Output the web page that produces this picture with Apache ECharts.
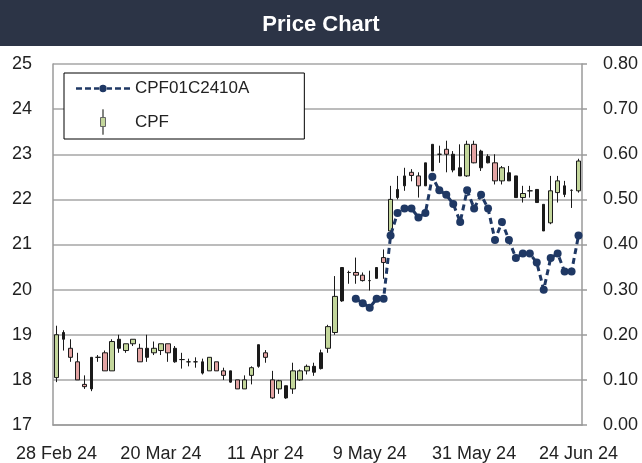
<!DOCTYPE html>
<html><head><meta charset="utf-8">
<script src="https://cdn.jsdelivr.net/npm/echarts@6/dist/echarts.min.js"></script>
<style>html,body{margin:0;padding:0;background:#fff}#c{width:642px;height:463px}</style>
</head><body><div id="c"></div>
<script>
const dates = ['28 Feb 24','29 Feb 24','1 Mar 24','4 Mar 24','5 Mar 24','6 Mar 24','7 Mar 24','8 Mar 24','11 Mar 24','12 Mar 24','13 Mar 24','14 Mar 24','15 Mar 24','18 Mar 24','19 Mar 24','20 Mar 24','21 Mar 24','22 Mar 24','25 Mar 24','26 Mar 24','27 Mar 24','28 Mar 24','29 Mar 24','1 Apr 24','2 Apr 24','3 Apr 24','4 Apr 24','5 Apr 24','9 Apr 24','10 Apr 24','11 Apr 24','17 Apr 24','18 Apr 24','19 Apr 24','22 Apr 24','23 Apr 24','24 Apr 24','25 Apr 24','26 Apr 24','29 Apr 24','30 Apr 24','2 May 24','3 May 24','7 May 24','8 May 24','9 May 24','10 May 24','13 May 24','14 May 24','15 May 24','16 May 24','17 May 24','20 May 24','21 May 24','23 May 24','24 May 24','27 May 24','28 May 24','29 May 24','30 May 24','31 May 24','4 Jun 24','5 Jun 24','6 Jun 24','7 Jun 24','10 Jun 24','11 Jun 24','12 Jun 24','13 Jun 24','14 Jun 24','17 Jun 24','18 Jun 24','19 Jun 24','20 Jun 24','21 Jun 24','24 Jun 24'];

const openPrice  = [18.05,19.05,18.7,18.4,17.9,17.8,18.5,18.6,18.2,18.9,18.65,18.8,18.7,18.5,18.6,18.65,18.8,18.7,18.45,18.4,18.4,18.4,18.2,18.4,18.2,18.2,18.0,17.8,18.1,18.3,18.6,18.0,17.8,17.87,17.8,18.0,18.2,18.3,18.25,18.7,19.05,19.75,20.38,20.38,20.32,20.2,20.25,20.71,21.3,22.22,22.3,22.6,22.52,22.3,22.63,23.0,23.11,23.0,22.7,22.52,23.22,23.07,22.95,22.81,22.41,22.59,22.52,22.04,22.19,22.22,21.89,21.48,22.15,22.3,22.2,22.19];
const closePrice = [19.0,18.9,18.5,18.0,17.85,18.5,18.5,18.2,18.85,18.7,18.8,18.9,18.4,18.7,18.7,18.8,18.6,18.4,18.45,18.4,18.4,18.15,18.5,18.2,18.1,17.95,17.8,18.0,18.27,18.78,18.5,17.6,17.98,17.6,18.2,18.2,18.3,18.17,18.6,19.18,19.85,20.49,20.38,20.32,20.2,20.2,20.49,20.6,22.0,22.04,22.52,22.53,22.3,22.81,23.22,23.0,23.0,22.65,22.52,23.22,22.81,22.7,22.81,22.41,22.7,22.41,22.04,22.13,22.19,21.93,21.3,22.19,22.41,22.11,22.2,22.85];
const lowPrice   = [17.95,18.65,18.4,18.0,17.8,17.75,18.4,18.2,18.2,18.6,18.6,18.75,18.4,18.4,18.55,18.55,18.4,18.38,18.25,18.3,18.27,18.12,18.2,18.2,18.0,17.94,17.8,17.8,17.9,18.27,18.38,17.58,17.69,17.58,17.69,17.98,18.12,18.09,18.23,18.6,19.0,19.73,20.13,20.13,20.18,19.98,20.25,20.24,21.2,22.0,22.19,22.4,22.04,22.3,22.63,22.81,22.6,22.6,22.52,22.5,22.8,22.63,22.8,22.33,22.33,22.41,22.04,21.93,22.04,21.93,21.3,21.45,21.93,22.05,21.81,22.15];
const highPrice  = [19.2,19.1,18.9,18.6,18.1,18.5,18.55,18.65,18.9,19.0,18.8,18.9,18.8,19.0,18.85,18.8,18.8,18.75,18.6,18.47,18.5,18.47,18.5,18.4,18.27,18.2,18.0,18.1,18.3,18.78,18.66,18.2,18.0,17.87,18.38,18.23,18.34,18.38,18.67,19.22,20.3,20.49,20.42,20.71,20.38,20.42,20.49,20.89,22.3,22.52,22.7,22.67,22.6,22.81,23.22,23.19,23.3,23.07,23.22,23.3,23.3,23.1,23.0,23.0,22.74,22.74,22.52,22.3,22.3,22.22,21.89,22.52,22.52,22.41,22.22,22.9];

const dwDates = ['7 May 24','8 May 24','9 May 24','10 May 24','13 May 24','14 May 24','15 May 24','16 May 24','17 May 24','20 May 24','21 May 24','23 May 24','24 May 24','27 May 24','28 May 24','29 May 24','30 May 24','31 May 24','4 Jun 24','5 Jun 24','6 Jun 24','7 Jun 24','10 Jun 24','11 Jun 24','12 Jun 24','13 Jun 24','14 Jun 24','17 Jun 24','18 Jun 24','19 Jun 24','20 Jun 24','21 Jun 24','24 Jun 24'];
const dwPrice = [0.28,0.27,0.26,0.28,0.28,0.42,0.47,0.48,0.48,0.46,0.47,0.55,0.52,0.51,0.49,0.45,0.52,0.48,0.51,0.48,0.41,0.45,0.41,0.37,0.38,0.38,0.36,0.30,0.37,0.38,0.34,0.34,0.42];

const FONT = '"Liberation Sans", Arial, sans-serif';
const EMPTY = ['-', '-', '-', '-'];
const candleData = dates.map((d, i) => [openPrice[i], closePrice[i], lowPrice[i], highPrice[i]]);
// The source picture draws some bodies narrow (pixel snapping), which renders them solid dark.
const isNarrow = i => i % 4 === 1 || (i % 4 === 2 && i >= 38);
const wideData = candleData.map((v, i) => (isNarrow(i) ? EMPTY : v));
const narrowData = candleData.map((v, i) => (isNarrow(i) ? v : EMPTY));
const dwMap = {};
dwDates.forEach((d, i) => { dwMap[d] = dwPrice[i]; });
const dwSeries = dates.map(d => (d in dwMap ? dwMap[d] : null));

const chart = echarts.init(document.getElementById('c'), null, {renderer: 'canvas'});
chart.setOption({
  animation: false,
  textStyle: {fontFamily: FONT},
  graphic: [{type: 'rect', shape: {x: 0, y: 0, width: 642, height: 46}, style: {fill: '#2c3446'}, z: -10}],
  title: {text: 'Price Chart', left: 'center', top: 9,
    textStyle: {color: '#ffffff', fontSize: 22, fontWeight: 'bold', fontFamily: FONT}},
  legend: {
    orient: 'vertical', left: 64, top: 73,
    padding: [7, 55, 4, 12], itemGap: 12, itemWidth: 54, itemHeight: 25,
    borderColor: '#000', borderWidth: 1, backgroundColor: '#fff',
    textStyle: {fontSize: 17, color: '#222', fontFamily: FONT},
    data: [
      {name: 'CPF01C2410A',
       icon: 'path://M0 11.3h6v2.4h-6z M9 11.3h6v2.4h-6z M18 11.3h5v2.4h-5z M23.3 12.5a3.7 3.7 0 1 0 7.4 0a3.7 3.7 0 1 0 -7.4 0z M31 11.3h5v2.4h-5z M39 11.3h6v2.4h-6z M48 11.3h6v2.4h-6z',
       itemStyle: {color: '#1f3864', borderWidth: 0}},
      {name: 'CPF',
       icon: 'path://M2.3 0h0.4v8h-0.4z M0 8h5v9h-5z M2.3 17h0.4v8h-0.4z',
       itemStyle: {color: '#c3d69b', borderColor: '#666', borderWidth: 1}}
    ]
  },
  grid: {left: 53, right: 60, top: 64, bottom: 36},
  xAxis: {
    type: 'category', data: dates, boundaryGap: true,
    axisLine: {lineStyle: {color: '#9a9a9a', width: 1.5}},
    axisTick: {show: false},
    axisLabel: {interval: 14, fontSize: 18, color: '#222', margin: 20, fontFamily: FONT},
    splitLine: {show: false}
  },
  yAxis: [
    {type: 'value', min: 17, max: 25, interval: 1, position: 'left',
     axisLine: {show: true, lineStyle: {color: '#9a9a9a', width: 1.5}},
     axisTick: {show: false},
     axisLabel: {fontSize: 18, color: '#222', margin: 21, padding: [0, 0, 6, 0], fontFamily: FONT},
     splitLine: {lineStyle: {color: '#a6a6a6', width: 1.5}}},
    {type: 'value', min: 0, max: 0.8, interval: 0.1, position: 'right',
     axisLine: {show: true, lineStyle: {color: '#9a9a9a', width: 1.5}},
     axisTick: {show: true, length: 5, lineStyle: {color: '#9a9a9a', width: 1.5}},
     axisLabel: {fontSize: 18, color: '#222', margin: 21, padding: [0, 0, 6, 0], fontFamily: FONT,
       formatter: v => v.toFixed(2)},
     splitLine: {show: false}}
  ],
  series: [
    {name: 'CPF01C2410A', type: 'line', yAxisIndex: 1, data: dwSeries, z: 5,
     symbol: 'circle', symbolSize: 8, showAllSymbol: true,
     lineStyle: {color: '#1f3864', width: 3, type: [6, 4]},
     itemStyle: {color: '#1f3864'}},
    {name: 'CPF', type: 'candlestick', data: wideData, barWidth: 5, z: 2,
     itemStyle: {color: '#c3d69b', color0: '#e3a3a3', borderColor: '#1a1a1a', borderColor0: '#1a1a1a', borderWidth: 1}},
    {name: 'CPF', type: 'candlestick', data: narrowData, barWidth: 3, z: 2,
     itemStyle: {color: '#1a1a1a', color0: '#1a1a1a', borderColor: '#1a1a1a', borderColor0: '#1a1a1a', borderWidth: 1}}
  ]
});
</script>
</body></html>
